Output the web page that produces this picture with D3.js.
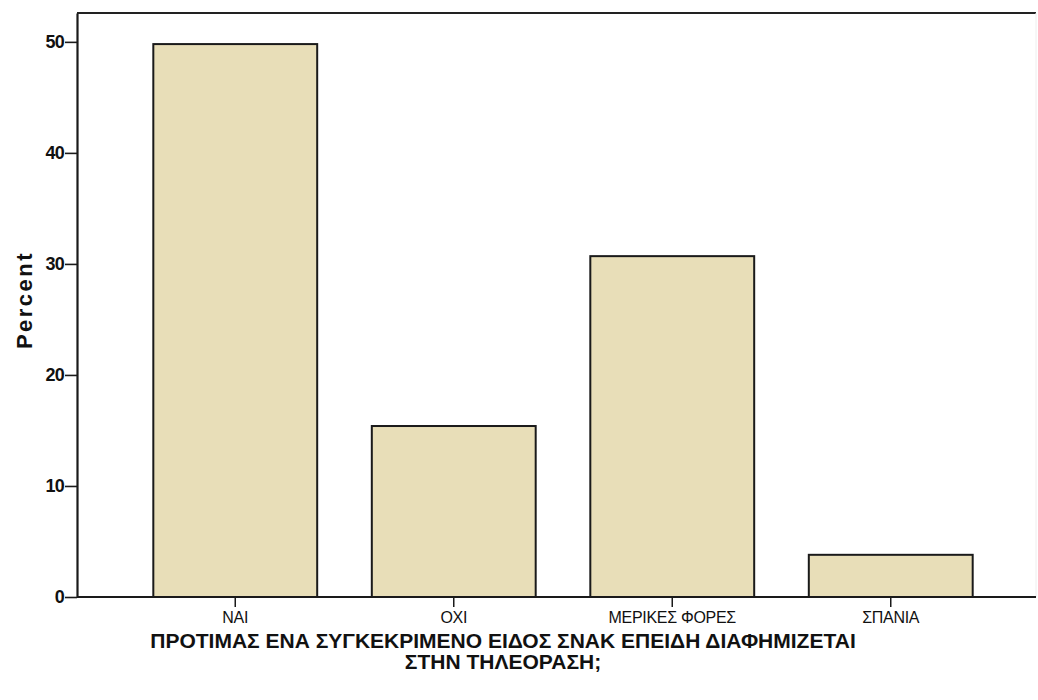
<!DOCTYPE html>
<html><head><meta charset="utf-8">
<script src="https://cdn.jsdelivr.net/npm/d3@7"></script>
<style>body{margin:0;background:#fff}svg{display:block}text{font-family:"Liberation Sans",Arial,sans-serif}</style>
</head><body><svg id="c" width="1038" height="700"></svg>
<script>
const categories = ["NAI", "OXI", "ΜΕΡΙΚΕΣ ΦΟΡΕΣ", "ΣΠΑΝΙΑ"];
const percents = [49.8, 15.4, 30.7, 3.8];
const yTicks = [0, 10, 20, 30, 40, 50];
const titleLines = ["ΠΡΟΤΙΜΑΣ ΕΝΑ ΣΥΓΚΕΚΡΙΜΕΝΟ ΕΙΔΟΣ ΣΝΑΚ ΕΠΕΙΔΗ ΔΙΑΦΗΜΙΖΕΤΑΙ", "ΣΤΗΝ ΤΗΛΕΟΡΑΣΗ;"];

const svg = d3.select("#c");
const mLeft = 77, mRight = 1036, mTop = 13, mBottom = 597;
const y = d3.scaleLinear().domain([0, 52.6]).range([mBottom, mTop]);
const x = d3.scaleBand().domain(categories).range([126, 1000]).paddingInner(0.25).paddingOuter(0.125);

// frame
svg.append("line").attr("x1", mLeft).attr("x2", mRight).attr("y1", mTop).attr("y2", mTop).attr("stroke", "#222").attr("stroke-width", 2);
svg.append("line").attr("x1", mRight).attr("x2", mRight).attr("y1", mTop).attr("y2", mBottom).attr("stroke", "#eee").attr("stroke-width", 1);

// bars
svg.selectAll("rect.bar").data(percents).join("rect").attr("class", "bar")
  .attr("x", (d, i) => x(categories[i]))
  .attr("width", x.bandwidth())
  .attr("y", d => y(d))
  .attr("height", d => mBottom - y(d))
  .attr("fill", "#E8DEB8").attr("stroke", "#1a1a1a").attr("stroke-width", 2);

// y axis
const ya = svg.append("g").attr("transform", `translate(${mLeft},0)`)
  .call(d3.axisLeft(y).tickValues(yTicks).tickSize(12).tickSizeOuter(0).tickPadding(1));
ya.select(".domain").attr("stroke", "#1a1a1a").attr("stroke-width", 2.2);
ya.selectAll(".tick line").attr("stroke", "#1a1a1a").attr("stroke-width", 1.6);
ya.selectAll(".tick text").attr("font-size", 18).attr("font-weight", "bold").attr("fill", "#111").attr("letter-spacing", -0.8);

// x axis
const xa = svg.append("g").attr("transform", `translate(0,${mBottom})`)
  .call(d3.axisBottom(x).tickSize(10).tickSizeOuter(0).tickPadding(5));
xa.select(".domain").attr("d", `M${mLeft},0H${mRight}`).attr("stroke", "#1a1a1a").attr("stroke-width", 2);
xa.selectAll(".tick line").attr("stroke", "#1a1a1a").attr("stroke-width", 1.5);
xa.selectAll(".tick text").attr("font-size", 16).attr("fill", "#111").attr("letter-spacing", -0.3);

// y label
svg.append("text").attr("transform", "translate(32,300) rotate(-90)").attr("text-anchor", "middle")
  .attr("font-size", 22).attr("font-weight", "bold").attr("fill", "#111").attr("letter-spacing", 2.5).text("Percent");

// title
svg.selectAll("text.title").data(titleLines).join("text").attr("class", "title")
  .attr("x", 503).attr("y", (d, i) => 648 + i * 21).attr("text-anchor", "middle")
  .attr("font-size", 21).attr("font-weight", "bold").attr("fill", "#111").text(d => d);
</script></body></html>
